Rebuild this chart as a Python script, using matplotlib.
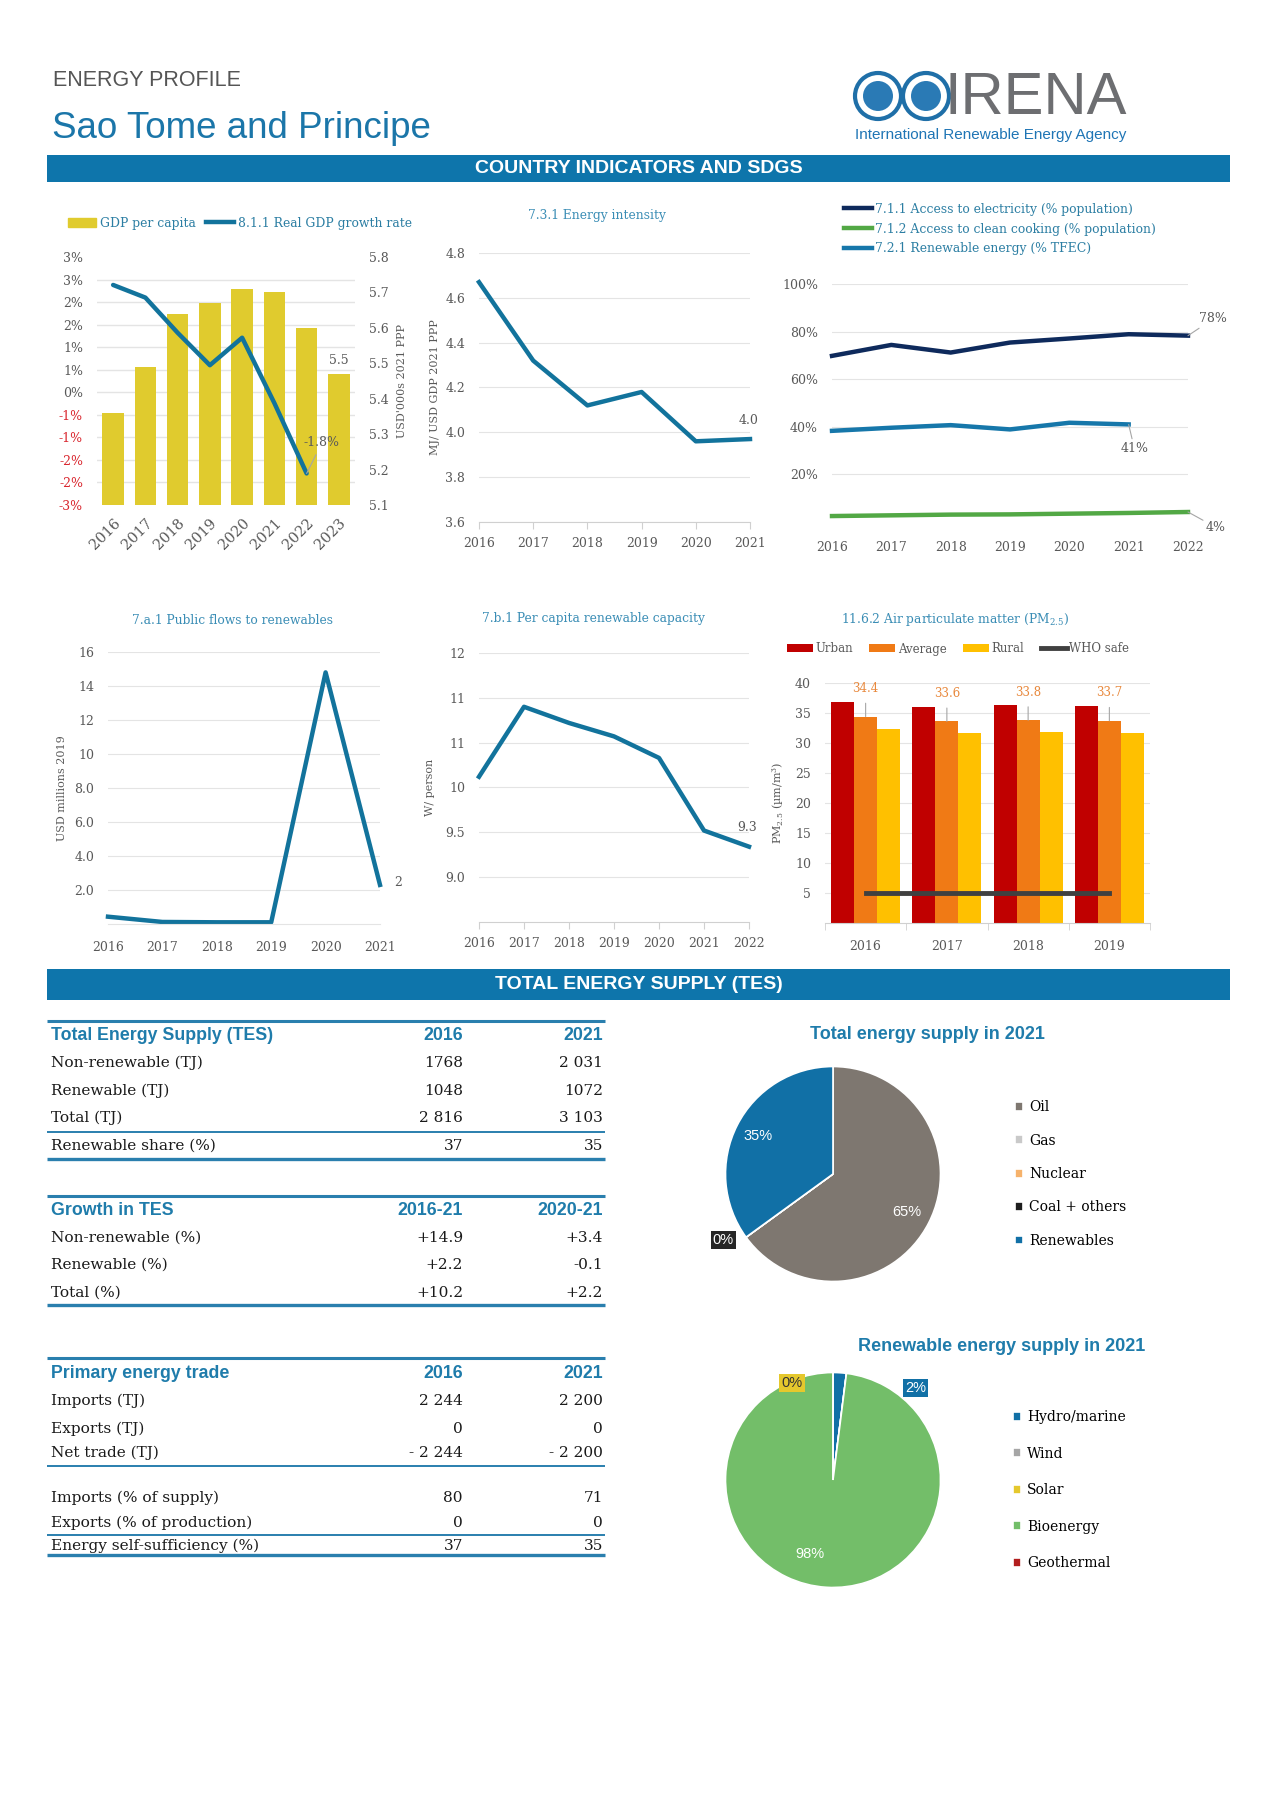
import matplotlib
matplotlib.use('Agg')
import matplotlib.pyplot as plt
import numpy as np
from matplotlib.patches import Rectangle, Circle, Patch
from matplotlib.lines import Line2D

W, H = 1280, 1810

# ---------------- data ----------------
gdp_years = ['2016', '2017', '2018', '2019', '2020', '2021', '2022', '2023']
gdp_per_capita = [5.36, 5.49, 5.64, 5.67, 5.71, 5.70, 5.60, 5.47]
gdp_growth = [2.38, 2.10, 1.32, 0.60, 1.21, -0.24, -1.80]

ei_years = ['2016', '2017', '2018', '2019', '2020', '2021']
energy_intensity = [4.67, 4.32, 4.12, 4.18, 3.96, 3.97]

acc_years = ['2016', '2017', '2018', '2019', '2020', '2021', '2022']
elec_access = [69.8, 74.4, 71.2, 75.4, 77.1, 78.9, 78.3]
cooking_access = [2.5, 2.8, 3.1, 3.2, 3.5, 3.8, 4.2]
re_share_tfec = [38.3, 39.6, 40.7, 38.9, 41.7, 41.0]

flow_years = ['2016', '2017', '2018', '2019', '2020', '2021']
public_flows = [0.43, 0.12, 0.10, 0.10, 14.8, 2.3]

cap_years = ['2016', '2017', '2018', '2019', '2020', '2021', '2022']
re_capacity = [10.12, 10.90, 10.72, 10.57, 10.33, 9.52, 9.34]

pm_years = ['2016', '2017', '2018', '2019']
pm_urban = [36.9, 36.0, 36.3, 36.2]
pm_average = [34.4, 33.6, 33.8, 33.7]
pm_rural = [32.4, 31.6, 31.8, 31.7]
who_safe = 5

tes_rows = ['Non-renewable (TJ)', 'Renewable (TJ)', 'Total (TJ)', 'Renewable share (%)']
tes_2016 = ['1768', '1048', '2 816', '37']
tes_2021 = ['2 031', '1072', '3 103', '35']

growth_rows = ['Non-renewable (%)', 'Renewable (%)', 'Total (%)']
growth_1621 = ['+14.9', '+2.2', '+10.2']
growth_2021 = ['+3.4', '-0.1', '+2.2']

trade_rows = ['Imports (TJ)', 'Exports (TJ)', 'Net trade (TJ)',
              'Imports (% of supply)', 'Exports (% of production)', 'Energy self-sufficiency (%)']
trade_2016 = ['2 244', '0', '- 2 244', '80', '0', '37']
trade_2021 = ['2 200', '0', '- 2 200', '71', '0', '35']

tes_labels = ['Oil', 'Gas', 'Nuclear', 'Coal + others', 'Renewables']
tes_share = [65, 0, 0, 0, 35]
tes_colors = ['#7e7770', '#c9c9c9', '#f6b26b', '#1e1e1e', '#1170a6']

re_labels = ['Hydro/marine', 'Wind', 'Solar', 'Bioenergy', 'Geothermal']
re_share = [2, 0, 0, 98, 0]
re_colors = ['#1170a6', '#a6a6a6', '#e5c82d', '#73be69', '#b21e1e']

# ---------------- style ----------------
plt.rcParams['font.family'] = ['DejaVu Serif']
plt.rcParams['mathtext.fontset'] = 'dejavuserif'
plt.rcParams['axes.unicode_minus'] = False

SANS = ['Liberation Sans', 'DejaVu Sans']
BLUE = '#0e75ab'
HEAD = '#1f7cab'
TITLE = '#3a8db5'
LABEL = '#595959'
GRID = '#e4e4e4'
LINE = '#12739c'


def rect(l, t, r, b):
    return [l / W, 1 - b / H, (r - l) / W, (b - t) / H]


def clean(ax):
    for s in ax.spines.values():
        s.set_visible(False)
    ax.tick_params(length=0, labelsize=9, colors=LABEL, pad=10)
    ax.set_facecolor('none')


def bottom_axis(ax, ticks=True):
    ax.spines['bottom'].set_visible(True)
    ax.spines['bottom'].set_color('#d0d0d0')
    if ticks:
        ax.tick_params(axis='x', length=5, color='#d0d0d0', pad=6)


def ylabel_at(ax, text, xpix, l, r):
    ax.set_ylabel(text, fontsize=8, color=LABEL)
    ax.yaxis.set_label_coords((xpix - l) / (r - l), 0.5)


fig = plt.figure(figsize=(W / 100, H / 100), dpi=100)
bg = fig.add_axes([0, 0, 1, 1])
bg.set_xlim(0, W)
bg.set_ylim(H, 0)
bg.axis('off')

# ---------------- header ----------------
bg.text(53, 80, 'ENERGY PROFILE', family=SANS, fontsize=15.5, color='#555555', va='center')
bg.text(52, 129, 'Sao Tome and Principe', family=SANS, fontsize=26.5, color='#1b76a9', va='center')
for cx in (878, 926):
    bg.add_patch(Circle((cx, 96), 23, facecolor='white', edgecolor='#1f6fa8', lw=3))
    bg.add_patch(Circle((cx, 96), 15, facecolor='#2a7ab5', edgecolor='none'))
bg.text(945, 98, 'IRENA', family=SANS, fontsize=43, color='#6d6e71', va='center')
bg.text(855, 135, 'International Renewable Energy Agency', family=SANS, fontsize=11,
        color='#1f75b5', va='center')

for top, bot, txt in [(155, 182, 'COUNTRY INDICATORS AND SDGS'), (969, 1000, 'TOTAL ENERGY SUPPLY (TES)')]:
    bg.add_patch(Rectangle((47, top), 1183, bot - top, facecolor=BLUE, edgecolor='none'))
    bg.text(639, (top + bot) / 2, txt, family=SANS, fontweight='bold', fontsize=14,
            color='white', ha='center', va='center')

# ---------------- chart 1: GDP ----------------
L, T, R, B = 97, 257, 355, 505
x = np.arange(len(gdp_years))
ax = fig.add_axes(rect(L, T, R, B))
g = ax.twinx()
clean(ax)
clean(g)
ax.bar(x, gdp_per_capita, width=0.67, color='#e0cb2e', zorder=2)
ax.set_xlim(-0.5, len(x) - 0.5)
ax.set_ylim(5.1, 5.8)
ax.yaxis.tick_right()
ax.yaxis.set_label_position('right')
rticks = np.round(np.arange(5.1, 5.85, 0.1), 1)
ax.set_yticks(rticks, [f'{v:.1f}' for v in rticks])
ax.set_ylabel("USD'000s 2021 PPP", fontsize=8, color=LABEL)
ax.yaxis.set_label_coords((397 - L) / (R - L), 0.5)
ax.set_xticks(x, gdp_years, rotation=45, ha='right', rotation_mode='anchor', fontsize=10.5)
ax.tick_params(axis='x', pad=8)
growth_ticks = np.round(np.arange(-2.5, 3.01, 0.5), 2)
ax.set_yticks(5.1 + (growth_ticks + 2.5) / 5.5 * 0.7, minor=True)
ax.grid(which='minor', axis='y', color=GRID, lw=1)
ax.tick_params(which='minor', length=0)
ax.set_axisbelow(True)
ax.annotate(f'{gdp_per_capita[-1]:.1f}', (x[-1], gdp_per_capita[-1]), xytext=(0, 5),
            textcoords='offset points', ha='center', va='bottom', fontsize=9, color=LABEL)

g.yaxis.tick_left()
g.set_ylim(-2.5, 3.0)


def pct(v):
    r = int(np.floor(abs(v) + 0.5))
    return f'{"-" if v < 0 else ""}{r}%'


g.set_yticks(growth_ticks, [pct(v) for v in growth_ticks])
for lab, v in zip(g.get_yticklabels(), growth_ticks):
    if v < 0:
        lab.set_color('#d9262e')
g.plot(x[:len(gdp_growth)], gdp_growth, color=LINE, lw=3.2, solid_capstyle='round', zorder=3)
g.annotate(f'{gdp_growth[-1]:.1f}%', (x[len(gdp_growth) - 1], gdp_growth[-1]), xytext=(11, 22),
           textcoords='offset points', ha='center', va='center', fontsize=9, color=LABEL,
           arrowprops=dict(arrowstyle='-', color='#a6a6a6', lw=0.8, shrinkA=2, shrinkB=0))

fig.legend([Patch(color='#e0cb2e'), Line2D([], [], color=LINE, lw=3.2)],
           ['GDP per capita', '8.1.1 Real GDP growth rate'], loc='center left',
           bbox_to_anchor=(68 / W, 1 - 223 / H), ncol=2, frameon=False, fontsize=8.9,
           labelcolor='#2c7ea3', handlelength=2.3, handleheight=0.7, handletextpad=0.3,
           columnspacing=0.8, borderpad=0, borderaxespad=0)

# ---------------- chart 2: energy intensity ----------------
L, T, R, B = 479, 253, 750, 522
ax = fig.add_axes(rect(L, T, R, B))
clean(ax)
xi = np.arange(len(ei_years))
ax.plot(xi, energy_intensity, color=LINE, lw=3.2, clip_on=False)
ax.set_xlim(0, len(xi) - 1)
ax.set_ylim(3.6, 4.8)
eticks = np.round(np.arange(3.6, 4.81, 0.2), 1)
ax.set_yticks(eticks, [f'{v:.1f}' for v in eticks])
ax.grid(axis='y', color=GRID)
ax.set_xticks(xi, ei_years)
bottom_axis(ax)
ylabel_at(ax, 'MJ/ USD GDP 2021 PPP', 440, L, R)
ax.annotate(f'{energy_intensity[-1]:.1f}', (xi[-1], energy_intensity[-1]), xytext=(-1, 9),
            textcoords='offset points', ha='center', va='bottom', fontsize=9, color=LABEL)
bg.text(597, 216, '7.3.1 Energy intensity', fontsize=8.8, color=TITLE, ha='center', va='center')

# ---------------- chart 3: access ----------------
L, T, R, B = 832, 284, 1188, 522
ax = fig.add_axes(rect(L, T, R, B))
clean(ax)
xa = np.arange(len(acc_years))
ax.plot(xa, elec_access, color='#0e2a5c', lw=3.2, clip_on=False)
ax.plot(xa, cooking_access, color='#52a845', lw=3.2, clip_on=False)
ax.plot(xa[:len(re_share_tfec)], re_share_tfec, color='#1677aa', lw=3.2, clip_on=False)
ax.set_xlim(0, len(xa) - 1)
ax.set_ylim(0, 100)
ax.set_yticks([20, 40, 60, 80, 100], ['20%', '40%', '60%', '80%', '100%'])
ax.grid(axis='y', color=GRID)
ax.set_xticks(xa, acc_years)
ax.tick_params(axis='x', pad=14)
lead = dict(arrowstyle='-', color='#a6a6a6', lw=0.8, shrinkA=0, shrinkB=0)
ax.annotate(f'{elec_access[-1]:.0f}%', (xa[-1], elec_access[-1]), xytext=(18, 12),
            textcoords='offset points', ha='center', va='center', fontsize=9, color=LABEL, arrowprops=lead)
ax.annotate(f'{re_share_tfec[-1]:.0f}%', (xa[len(re_share_tfec) - 1], re_share_tfec[-1]), xytext=(4, -17),
            textcoords='offset points', ha='center', va='center', fontsize=9, color=LABEL, arrowprops=lead)
ax.annotate(f'{cooking_access[-1]:.0f}%', (xa[-1], cooking_access[-1]), xytext=(20, -11),
            textcoords='offset points', ha='center', va='center', fontsize=9, color=LABEL, arrowprops=lead)
fig.legend([Line2D([], [], color=c, lw=3.2) for c in ('#0e2a5c', '#52a845', '#1677aa')],
           ['7.1.1 Access to electricity (% population)', '7.1.2 Access to clean cooking (% population)',
            '7.2.1 Renewable energy (% TFEC)'],
           loc='center left', bbox_to_anchor=(844 / W, 1 - 229 / H), frameon=False, fontsize=8.9,
           labelcolor='#2c7ea3', handlelength=2.3, handletextpad=0.2, labelspacing=0.55,
           borderpad=0, borderaxespad=0)

# ---------------- chart 4: public flows ----------------
L, T, R, B = 108, 652, 380, 924
ax = fig.add_axes(rect(L, T, R, B))
clean(ax)
xf = np.arange(len(flow_years))
ax.plot(xf, public_flows, color=LINE, lw=3.2, clip_on=False)
ax.set_xlim(0, len(xf) - 1)
ax.set_ylim(0, 16)
fticks = np.arange(2, 17, 2)
ax.set_yticks(fticks, [f'{v:.1f}' if v < 10 else f'{v:.0f}' for v in fticks])
ax.grid(axis='y', color=GRID)
ax.set_xticks(xf, flow_years)
bottom_axis(ax, ticks=False)
ax.spines['bottom'].set_color('#e4e4e4')
ax.tick_params(axis='x', pad=12)
ylabel_at(ax, 'USD millions 2019', 67, L, R)
ax.annotate(f'{public_flows[-1]:.0f}', (xf[-1], public_flows[-1]), xytext=(10, 2),
            textcoords='offset points', ha='left', va='center', fontsize=9, color=LABEL)
bg.text(232, 620, '7.a.1 Public flows to renewables', fontsize=8.8, color=TITLE, ha='center', va='center')

# ---------------- chart 5: per capita capacity ----------------
L, T, R, B = 479, 653, 749, 922
ax = fig.add_axes(rect(L, T, R, B))
clean(ax)
xc = np.arange(len(cap_years))
ax.plot(xc, re_capacity, color=LINE, lw=3.2, clip_on=False)
ax.set_xlim(0, len(xc) - 1)
ax.set_ylim(8.5, 11.5)
cticks = np.round(np.arange(9.0, 11.51, 0.5), 1)
ax.set_yticks(cticks, [f'{v:.1f}' if v < 10 else str(int(np.floor(v + 0.5))) for v in cticks])
ax.grid(axis='y', color=GRID)
ax.set_xticks(xc, cap_years)
bottom_axis(ax)
ylabel_at(ax, 'W/ person', 435, L, R)
ax.annotate(f'{re_capacity[-1]:.1f}', (xc[-1], re_capacity[-1]), xytext=(-1, 9),
            textcoords='offset points', ha='center', va='bottom', fontsize=9, color=LABEL)
bg.text(593, 618, '7.b.1 Per capita renewable capacity', fontsize=8.8, color=TITLE, ha='center', va='center')

# ---------------- chart 6: PM2.5 ----------------
L, T, R, B = 825, 683, 1150, 923
ax = fig.add_axes(rect(L, T, R, B))
clean(ax)
xp = np.arange(len(pm_years))
w = 0.283
b1 = ax.bar(xp - w, pm_urban, w, color='#c00000', zorder=2)
b2 = ax.bar(xp, pm_average, w, color='#f07a15', zorder=2)
b3 = ax.bar(xp + w, pm_rural, w, color='#ffc000', zorder=2)
wl, = ax.plot(xp, [who_safe] * len(xp), color='#404040', lw=3.5, zorder=3)
ax.set_xlim(-0.5, len(xp) - 0.5)
ax.set_ylim(0, 40)
ax.set_yticks(np.arange(5, 41, 5))
ax.grid(axis='y', color=GRID)
ax.set_axisbelow(True)
ax.set_xticks(xp, pm_years)
ax.set_xticks(np.arange(-0.5, len(xp), 1.0), minor=True)
bottom_axis(ax, ticks=False)
ax.tick_params(axis='x', which='minor', length=5, color='#d0d0d0')
ax.tick_params(axis='x', pad=12)
ylabel_at(ax, 'PM$_{2.5}$ (µm/m$^{3}$)', 786, L, R)
for xi_, v in zip(xp, pm_average):
    ax.annotate(f'{v:.1f}', (xi_, v), xytext=(xi_, v + 4.7), ha='center', va='center',
                fontsize=8.5, color='#e8883c',
                arrowprops=dict(arrowstyle='-', color='#a6a6a6', lw=0.8, shrinkA=4, shrinkB=0))
fig.legend([b1, b2, b3, wl], ['Urban', 'Average', 'Rural', 'WHO safe'], loc='center left',
           bbox_to_anchor=(787 / W, 1 - 649 / H), ncol=4, frameon=False, fontsize=8.5,
           labelcolor=LABEL, handlelength=2.2, handleheight=0.7, handletextpad=0.2,
           columnspacing=1.4, borderpad=0, borderaxespad=0)
bg.text(955, 619, '11.6.2 Air particulate matter (PM$_{2.5}$)', fontsize=8.8, color=TITLE,
        ha='center', va='center')

# ---------------- tables ----------------
RULE = '#2a7fae'


def table(header, cols, head_y, labels, c1, c2, row_y, rules):
    bg.text(51, head_y, header, family=SANS, fontweight='bold', fontsize=12.8, color=HEAD, va='center')
    bg.text(463, head_y, cols[0], family=SANS, fontweight='bold', fontsize=12.8, color=HEAD,
            va='center', ha='right')
    bg.text(603, head_y, cols[1], family=SANS, fontweight='bold', fontsize=12.8, color=HEAD,
            va='center', ha='right')
    for lab, a, b, y in zip(labels, c1, c2, row_y):
        bg.text(51, y, lab, fontsize=11.1, color='#1a1a1a', va='center')
        bg.text(463, y, a, fontsize=11.1, color='#1a1a1a', va='center', ha='right')
        bg.text(603, y, b, fontsize=11.1, color='#1a1a1a', va='center', ha='right')
    for y, lw in rules:
        bg.plot([47, 605], [y, y], color=RULE, lw=lw, solid_capstyle='butt')


table('Total Energy Supply (TES)', ['2016', '2021'], 1035, tes_rows, tes_2016, tes_2021,
      [1063, 1091, 1118, 1146], [(1021, 2.2), (1132, 1.4), (1159, 2.4)])
table('Growth in TES', ['2016-21', '2020-21'], 1210, growth_rows, growth_1621, growth_2021,
      [1238, 1265, 1293], [(1196, 2.2), (1305, 2.4)])
table('Primary energy trade', ['2016', '2021'], 1373, trade_rows, trade_2016, trade_2021,
      [1401, 1429, 1453, 1498, 1523, 1546], [(1358, 2.2), (1466, 1.4), (1535, 1.4), (1555, 2.4)])

# ---------------- pies ----------------
def pie(cx, cy, r, shares, colors, labels, legend_xy, spacing, title, title_xy, marks):
    pa = fig.add_axes(rect(cx - r, cy - r, cx + r, cy + r))
    wedges, _ = pa.pie(shares, colors=colors, startangle=90, counterclock=False, radius=1,
                       wedgeprops=dict(edgecolor='white', linewidth=1.2))
    pa.set_xlim(-1, 1)
    pa.set_ylim(-1, 1)
    pa.set_aspect('equal')
    total = sum(shares)
    for idx, ang, rad, fc, tc in marks:
        val = f'{shares[idx] / total * 100:.0f}%'
        a = np.deg2rad(ang)
        box = dict(boxstyle='square,pad=0.15', fc=fc, ec='none') if fc else None
        pa.text(rad * np.cos(a), rad * np.sin(a), val, family=SANS, fontsize=10.5, color=tc,
                ha='center', va='center', bbox=box)
    pa.legend(wedges, labels, loc='center left', bbox_to_anchor=(legend_xy[0] / W, 1 - legend_xy[1] / H),
              bbox_transform=fig.transFigure, frameon=False, fontsize=10, handlelength=0.6,
              handleheight=0.6, handletextpad=0.4, labelspacing=spacing, borderpad=0, borderaxespad=0)
    bg.text(title_xy[0], title_xy[1], title, family=SANS, fontweight='bold', fontsize=13,
            color=HEAD, ha='center', va='center')


pie(833, 1174, 107.5, tes_share, tes_colors, tes_labels, (1015, 1174), 1.4,
    'Total energy supply in 2021', (927, 1034),
    [(0, -27, 0.77, None, 'white'), (4, 153, 0.78, None, 'white'), (3, 211, 1.19, '#262626', 'white')])
pie(833, 1480, 107.5, re_share, re_colors, re_labels, (1013, 1490), 1.62,
    'Renewable energy supply in 2021', (1002, 1346),
    [(0, 48, 1.15, '#1170a6', 'white'), (2, 113, 0.98, '#e5c82d', '#333333'), (3, 253, 0.72, None, 'white')])

fig.savefig('out.png', dpi=100, facecolor='white')
